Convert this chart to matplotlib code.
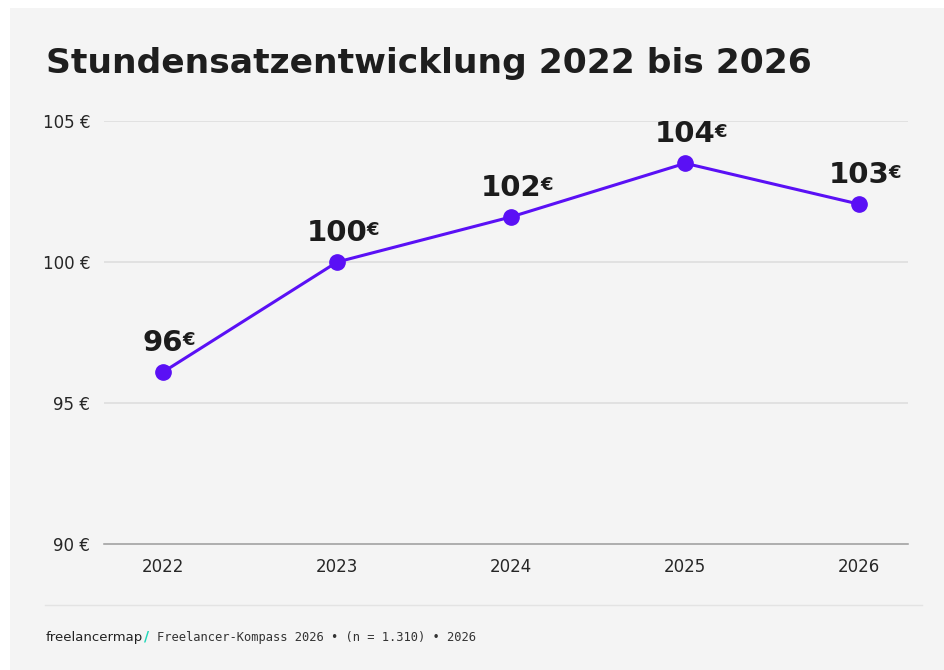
import matplotlib
matplotlib.use("Agg")
import matplotlib.pyplot as plt
from matplotlib.patches import Rectangle
from matplotlib.lines import Line2D

years = ["2022", "2023", "2024", "2025", "2026"]
values = [96.1, 100.0, 101.6, 103.5, 102.05]
value_labels = ["96", "100", "102", "104", "103"]
y_ticks = [90, 95, 100, 105]
y_tick_labels = ["90 €", "95 €", "100 €", "105 €"]
title = "Stundensatzentwicklung 2022 bis 2026"
source = "Freelancer-Kompass 2026 • (n = 1.310) • 2026"

W, H = 944, 670
fig = plt.figure(figsize=(W / 100, H / 100), dpi=100)
fig.patch.set_facecolor("white")

def fx(px):
    return px / W

def fy(py):
    return 1 - py / H

# grey panel
fig.patches.append(Rectangle((fx(10), 0), 1 - fx(10), fy(8), transform=fig.transFigure,
                             facecolor="#f4f4f4", edgecolor="none", zorder=-10))

ax = fig.add_axes([fx(104), fy(544), fx(908) - fx(104), fy(121) - fy(544)])
ax.set_zorder(1)
ax.set_facecolor("none")
x = list(range(len(years)))
ax.set_xlim(-0.34, 4.28)
ax.set_ylim(90, 105)

for t in y_ticks[1:]:
    ax.axhline(t, color="#dedede", lw=1.2, zorder=1)
for s in ["top", "right", "left"]:
    ax.spines[s].set_visible(False)
ax.spines["bottom"].set_color("#9a9a9a")
ax.spines["bottom"].set_linewidth(1.1)

ax.set_yticks(y_ticks)
ax.set_yticklabels(y_tick_labels)
ax.set_xticks(x)
ax.set_xticklabels(years)
ax.tick_params(axis="both", length=0, labelsize=12, labelcolor="#262626")
ax.tick_params(axis="y", pad=10)
ax.tick_params(axis="x", pad=10)

color = "#5a10f5"
ax.plot(x, values, color=color, lw=2.2, marker="o", markersize=11, zorder=3, clip_on=False)

num_texts = []
for xi, v, lab in zip(x, values, value_labels):
    t = ax.annotate(lab, (xi, v), xytext=(0, 11), textcoords="offset points",
                    ha="center", va="bottom", fontsize=21, fontweight="bold",
                    color="#1c1c1c", annotation_clip=False)
    num_texts.append(t)

fig.canvas.draw()
r = fig.canvas.get_renderer()
for t in num_texts:
    bb = t.get_window_extent(r)
    fig.text((bb.x1 - 1) / W, bb.y1 / H - 0.004, "€", ha="left", va="top",
             fontsize=13, fontweight="bold", color="#1c1c1c", zorder=5)

fig.text(fx(46), fy(73), title, ha="left", va="baseline", fontsize=24.8,
         fontweight="bold", color="#1e1e1e")

fig.lines.append(Line2D([fx(45), fx(922)], [fy(605), fy(605)], transform=fig.transFigure,
                        color="#e3e3e3", lw=1))

brand = fig.text(fx(46), fy(641), "freelancermap", ha="left", va="baseline",
                 fontsize=9.5, color="#222222", fontweight="medium")
fig.canvas.draw()
bb = brand.get_window_extent(r)
fig.text(bb.x1 / W + 0.001, fy(641), "/", ha="left", va="baseline", fontsize=10,
         color="#1fd6b8", fontweight="bold")
fig.text(fx(157), fy(641), source, ha="left", va="baseline", fontsize=8.75,
         family="DejaVu Sans Mono", color="#333333")

fig.savefig("out.png", dpi=100, facecolor=fig.get_facecolor())
